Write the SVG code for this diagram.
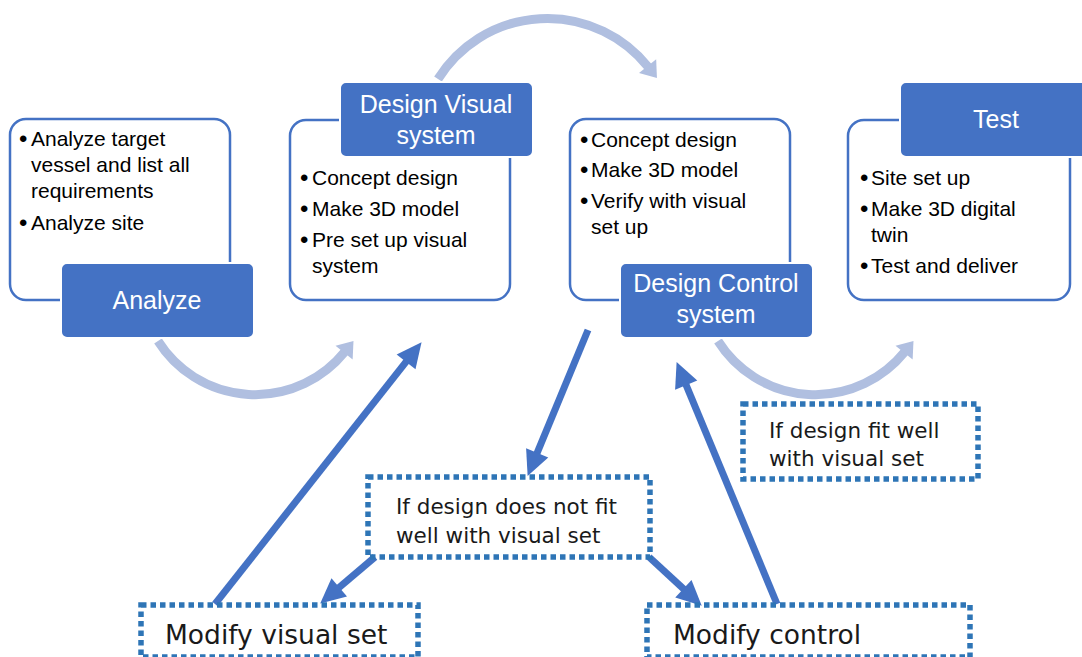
<svg xmlns="http://www.w3.org/2000/svg" width="1082" height="657" viewBox="0 0 1082 657">
  <style>
    .panel { fill: #ffffff; stroke: #4472C4; stroke-width: 2.5; }
    .label { fill: #4472C4; stroke: #ffffff; stroke-width: 2; }
    .labelText { font-family: "Liberation Sans", Arial, sans-serif; font-size: 25px; fill: #ffffff; text-anchor: middle; }
    .item { font-family: "Liberation Sans", Arial, sans-serif; font-size: 21px; fill: #000000; }
    .dot { font-family: "Liberation Sans", Arial, sans-serif; font-size: 24px; fill: #000000; }
    .note { fill: none; stroke: #2E75B6; stroke-width: 5.5; stroke-dasharray: 5.5 4; }
    .noteText { font-family: "DejaVu Sans", Verdana, sans-serif; font-size: 21.5px; fill: #1a1a1a; }
    .noteBig { font-family: "DejaVu Sans", Verdana, sans-serif; font-size: 26.5px; fill: #1a1a1a; }
    .flow { fill: none; stroke: #B0BFE0; stroke-width: 9; }
    .jump { fill: none; stroke: #4472C4; stroke-width: 7; }
  </style>
  <defs>
    <marker id="lightHead" markerUnits="userSpaceOnUse" markerWidth="18" markerHeight="24" refX="1" refY="11" orient="auto" overflow="visible">
      <path d="M0,0 L15,11 L0,22 z" fill="#B0BFE0"/>
    </marker>
    <marker id="darkHead" markerUnits="userSpaceOnUse" markerWidth="26" markerHeight="24" refX="12" refY="12" orient="auto" overflow="visible">
      <path d="M0,0 L25,12 L0,24 z" fill="#4472C4"/>
    </marker>
  </defs>

  <rect width="1082" height="657" fill="#ffffff"/>

  <!-- connectors -->
  <g id="connectors">
    <path class="flow" d="M158,341 A115,115 0 0 0 344.7,351.9" marker-end="url(#lightHead)"/>
    <path class="flow" d="M438,79 A129,129 0 0 1 648.2,67" marker-end="url(#lightHead)"/>
    <path class="flow" d="M718,341 A115,115 0 0 0 904.7,351.9" marker-end="url(#lightHead)"/>

    <line class="jump" x1="588" y1="330" x2="532.6" y2="463.9" marker-end="url(#darkHead)"/>
    <line class="jump" x1="215" y1="604" x2="413.5" y2="352.4" marker-end="url(#darkHead)"/>
    <line class="jump" x1="375" y1="557" x2="330.1" y2="595.2" marker-end="url(#darkHead)"/>
    <line class="jump" x1="649" y1="557" x2="692.2" y2="596.9" marker-end="url(#darkHead)"/>
    <line class="jump" x1="777" y1="604" x2="681.6" y2="374.1" marker-end="url(#darkHead)"/>
  </g>

  <!-- step 1 -->
  <g id="analyze">
    <rect class="panel" x="10" y="119" width="220" height="181" rx="16"/>
    <text class="dot" x="19" y="147">•</text>
    <text class="item" x="31" y="146">Analyze target</text>
    <text class="item" x="31" y="172">vessel and list all</text>
    <text class="item" x="31" y="198">requirements</text>
    <text class="dot" x="19" y="231">•</text>
    <text class="item" x="31" y="230">Analyze site</text>
    <rect class="label" x="61" y="263" width="193" height="75" rx="6"/>
    <text class="labelText" x="157" y="309">Analyze</text>
  </g>

  <!-- step 2 -->
  <g id="design-visual">
    <rect class="panel" x="290" y="120" width="220" height="180" rx="16"/>
    <rect class="label" x="340" y="82" width="193" height="75" rx="6"/>
    <text class="labelText" x="436" y="113">Design Visual</text>
    <text class="labelText" x="436" y="144">system</text>
    <text class="dot" x="300" y="186">•</text>
    <text class="item" x="312" y="185">Concept design</text>
    <text class="dot" x="300" y="217">•</text>
    <text class="item" x="312" y="216">Make 3D model</text>
    <text class="dot" x="300" y="248">•</text>
    <text class="item" x="312" y="247">Pre set up visual</text>
    <text class="item" x="312" y="273">system</text>
  </g>

  <!-- step 3 -->
  <g id="design-control">
    <rect class="panel" x="570" y="119" width="220" height="181" rx="16"/>
    <text class="dot" x="580" y="148">•</text>
    <text class="item" x="591" y="147">Concept design</text>
    <text class="dot" x="580" y="178">•</text>
    <text class="item" x="591" y="177">Make 3D model</text>
    <text class="dot" x="580" y="209">•</text>
    <text class="item" x="591" y="208">Verify with visual</text>
    <text class="item" x="591" y="234">set up</text>
    <rect class="label" x="620" y="263" width="193" height="75" rx="6"/>
    <text class="labelText" x="716" y="292">Design Control</text>
    <text class="labelText" x="716" y="323">system</text>
  </g>

  <!-- step 4 -->
  <g id="test">
    <rect class="panel" x="848" y="120" width="222" height="180" rx="16"/>
    <rect class="label" x="900" y="82" width="193" height="75" rx="6"/>
    <text class="labelText" x="996" y="128">Test</text>
    <text class="dot" x="860" y="186">•</text>
    <text class="item" x="871" y="185">Site set up</text>
    <text class="dot" x="860" y="217">•</text>
    <text class="item" x="871" y="216">Make 3D digital</text>
    <text class="item" x="871" y="242">twin</text>
    <text class="dot" x="860" y="274">•</text>
    <text class="item" x="871" y="273">Test and deliver</text>
  </g>

  <!-- decision notes -->
  <g id="fit-well">
    <rect class="note" x="743" y="404" width="235" height="75"/>
    <text class="noteText" x="769" y="438">If design fit well</text>
    <text class="noteText" x="769" y="466">with visual set</text>
  </g>

  <g id="not-fit">
    <rect class="note" x="368" y="477" width="282" height="80"/>
    <text class="noteText" x="396" y="514">If design does not fit</text>
    <text class="noteText" x="396" y="543">well with visual set</text>
  </g>

  <g id="modify-visual">
    <rect class="note" x="141" y="605" width="277" height="52"/>
    <text class="noteBig" x="165" y="644">Modify visual set</text>
  </g>

  <g id="modify-control">
    <rect class="note" x="647" y="605" width="323" height="52"/>
    <text class="noteBig" x="673" y="644">Modify control</text>
  </g>
</svg>
